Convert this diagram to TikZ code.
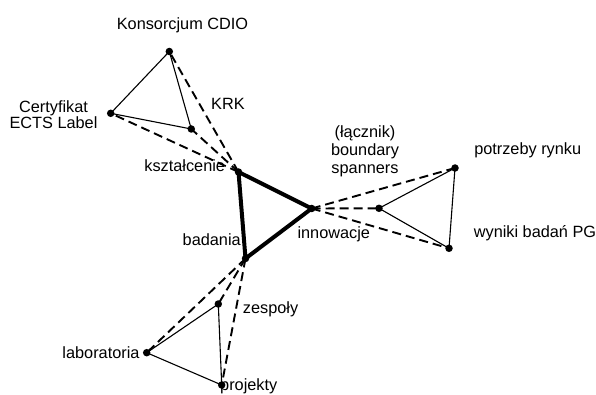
\documentclass[tikz,border=0pt]{standalone}
\usepackage{fontspec}
\setmainfont{Liberation Sans}
\begin{document}
\begin{tikzpicture}[x=1pt,y=-1pt,
  pt/.style={circle,fill=black,inner sep=0pt,minimum size=7.5pt},
  lbl/.style={inner sep=0pt,anchor=base,font=\fontsize{16.3}{17}\selectfont},
  lbll/.style={lbl,anchor=base west},
  core/.style={line width=4pt,line join=miter},
  thin/.style={line width=1.1pt},
  link/.style={line width=1.9pt,dash pattern=on 9pt off 5pt}]
\useasboundingbox (0,0) rectangle (596,395);
% central triangle points
\node[pt] (ks) at (238.5,172) {};
\node[pt] (in) at (311.7,208.5) {};
\node[pt] (bd) at (245.5,258.5) {};
% top group
\node[pt] (cdio) at (169.3,51.5) {};
\node[pt] (ects) at (110.7,113.3) {};
\node[pt] (krk) at (191.3,129) {};
% right group
\node[pt] (rynek) at (455,168) {};
\node[pt] (bs) at (379,208.3) {};
\node[pt] (wyn) at (449,248.3) {};
% bottom group
\node[pt] (zesp) at (218.3,304) {};
\node[pt] (lab) at (146.7,352.7) {};
\node[pt] (proj) at (221.7,385) {};
% thin triangles
\draw[thin] (cdio.center) -- (ects.center) -- (krk.center) -- cycle;
\draw[thin] (rynek.center) -- (bs.center) -- (wyn.center) -- cycle;
\draw[thin] (zesp.center) -- (lab.center) -- (proj.center) -- cycle;
% dashed links
\foreach \t in {cdio,ects,krk} \draw[link] (ks.center) -- (\t.center);
\foreach \t in {rynek,bs,wyn} \draw[link] (in.center) -- (\t.center);
\foreach \t in {zesp,lab,proj} \draw[link] (bd.center) -- (\t.center);
% central triangle
\draw[core] (ks.center) -- (in.center) -- (bd.center) -- cycle;
% labels
\node[lbl] (lcdio) at (182.5,29.3) {Konsorcjum CDIO};
\node[lbl] (lkrk) at (228,110) {KRK};
\node[lbl,align=center,font=\fontsize{16.3}{16.7}\selectfont] (lects) at (53.5,129) {Certyfikat\\ECTS Label};
\node[lbl] (lks) at (184.7,171.5) {kształcenie};
\node[lbl,align=center,font=\fontsize{16.3}{18}\selectfont] (lbs) at (365,173.3) {(łącznik)\\boundary\\spanners};
\node[lbl] (lin) at (333.8,238.3) {innowacje};
\node[lbl] (lbd) at (211.7,245) {badania};
\node[lbll] (lzesp) at (242.7,313.3) {zespoły};
\node[lbl] (llab) at (101,358.3) {laboratoria};
\node[lbll] (lproj) at (220,390.5) {projekty};
\node[lbl] (lrynek) at (527.7,155) {potrzeby rynku};
\node[lbl] (lwyn) at (535,237) {wyniki badań PG};
\end{tikzpicture}
\end{document}
